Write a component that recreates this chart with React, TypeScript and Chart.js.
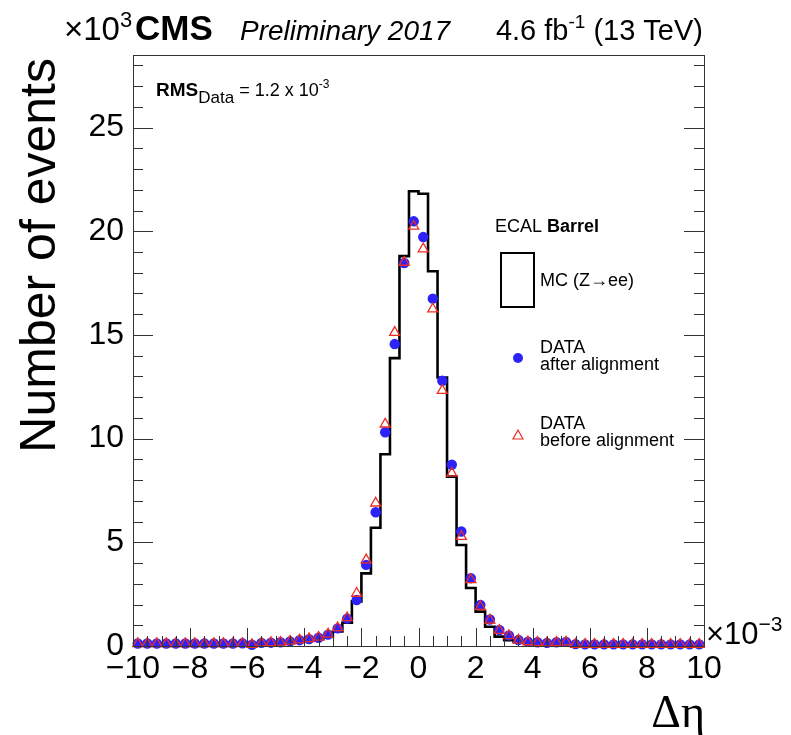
import React, { useEffect, useRef } from "react";
import { Chart, registerables } from "chart.js";

Chart.register(...registerables);

// Δη axis in units of 10^-3, 60 bins from -10 to 10
const X_MIN = -10;
const X_MAX = 10;
const N_BINS = 60;
const Y_MIN = 0;
const Y_MAX = 28.5;

const X_TICK_LABELS = [-10, -8, -6, -4, -2, 0, 2, 4, 6, 8, 10];
const Y_TICK_LABELS = [0, 5, 10, 15, 20, 25];

// Events per bin, in units of 10^3
const MC = [
  0.10, 0.10, 0.10, 0.10, 0.10, 0.10, 0.10, 0.10, 0.10, 0.10,
  0.10, 0.11, 0.12, 0.13, 0.14, 0.16, 0.19, 0.22, 0.27, 0.33,
  0.45, 0.70, 1.12, 2.15, 3.50, 5.70, 9.25, 13.88, 18.80, 21.93,
  21.81, 18.07, 12.95, 8.17, 4.87, 2.80, 1.66, 0.93, 0.45, 0.28,
  0.20, 0.16, 0.14, 0.13, 0.12, 0.11, 0.10, 0.10, 0.10, 0.10,
  0.10, 0.10, 0.10, 0.10, 0.10, 0.10, 0.10, 0.10, 0.10, 0.10,
];

const DATA_AFTER = [
  0.12, 0.12, 0.12, 0.12, 0.12, 0.12, 0.12, 0.12, 0.12, 0.12,
  0.12, 0.13, 0.06, 0.15, 0.16, 0.18, 0.22, 0.28, 0.33, 0.40,
  0.55, 0.85, 1.32, 2.22, 3.91, 6.45, 10.31, 14.56, 18.47, 20.48,
  19.72, 16.75, 12.79, 8.74, 5.52, 3.27, 1.98, 1.28, 0.77, 0.51,
  0.29, 0.21, 0.18, 0.15, 0.18, 0.20, 0.09, 0.08, 0.08, 0.08,
  0.08, 0.08, 0.08, 0.08, 0.08, 0.08, 0.08, 0.08, 0.08, 0.08,
];

const DATA_BEFORE = [
  0.11, 0.11, 0.11, 0.11, 0.11, 0.11, 0.11, 0.11, 0.11, 0.11,
  0.11, 0.12, 0.07, 0.15, 0.16, 0.18, 0.23, 0.29, 0.35, 0.42,
  0.57, 0.88, 1.36, 2.54, 4.15, 6.89, 10.70, 15.12, 18.50, 20.24,
  19.15, 16.25, 12.32, 8.33, 5.28, 3.20, 1.90, 1.25, 0.75, 0.50,
  0.28, 0.20, 0.17, 0.15, 0.17, 0.19, 0.08, 0.08, 0.08, 0.08,
  0.08, 0.08, 0.08, 0.08, 0.08, 0.08, 0.08, 0.08, 0.08, 0.08,
];

const SANS = "'Liberation Sans', Arial, Helvetica, sans-serif";
const SERIF = "'Liberation Serif', 'Times New Roman', serif";
const BLUE = "rgb(45,35,250)";
const RED = "rgb(238,45,35)";

type Part = { t: string; f: string; dy?: number };

function drawRich(ctx: CanvasRenderingContext2D, parts: Part[], x: number, y: number, align: "left" | "right" = "left") {
  ctx.save();
  ctx.textAlign = "left";
  ctx.textBaseline = "alphabetic";
  ctx.fillStyle = "#000";
  let total = 0;
  const widths = parts.map((p) => {
    ctx.font = p.f;
    const w = ctx.measureText(p.t).width;
    total += w;
    return w;
  });
  let cx = align === "right" ? x - total : x;
  parts.forEach((p, i) => {
    ctx.font = p.f;
    ctx.fillText(p.t, cx, y + (p.dy || 0));
    cx += widths[i];
  });
  ctx.restore();
}

const rootPlugin = {
  id: "rootDecor",
  afterDraw(chart: any) {
    const ctx: CanvasRenderingContext2D = chart.ctx;
    const { left, right, top, bottom } = chart.chartArea;
    const xs = chart.scales.x;
    const ys = chart.scales.y;

    ctx.save();
    // frame
    ctx.strokeStyle = "#333";
    ctx.lineWidth = 1;
    ctx.strokeRect(Math.round(left) + 0.5, Math.round(top) + 0.5, Math.round(right - left), Math.round(bottom - top));

    // x ticks (inward, bottom)
    ctx.beginPath();
    for (let k = 0; k <= 40; k++) {
      const v = X_MIN + k * 0.5;
      const px = Math.round(xs.getPixelForValue(v)) + 0.5;
      const len = k % 4 === 0 ? 18 : 10;
      ctx.moveTo(px, bottom);
      ctx.lineTo(px, bottom - len);
    }
    // y ticks (inward, left and right)
    for (let k = 0; k <= 28; k++) {
      const v = Y_MIN + k;
      const py = Math.round(ys.getPixelForValue(v)) + 0.5;
      const len = k % 5 === 0 ? 20 : 10;
      ctx.moveTo(left, py);
      ctx.lineTo(left + len, py);
      ctx.moveTo(right, py);
      ctx.lineTo(right - len, py);
    }
    ctx.stroke();
    ctx.restore();

    // header
    drawRich(ctx, [
      { t: "\u00d710", f: `33px ${SANS}` },
      { t: "3", f: `22px ${SANS}`, dy: -13 },
    ], 64, 40);
    drawRich(ctx, [{ t: "CMS", f: `bold 35px ${SANS}` }], 135, 40);
    drawRich(ctx, [{ t: "Preliminary 2017", f: `italic 28px ${SANS}` }], 240, 40);
    drawRich(ctx, [
      { t: "4.6 fb", f: `29px ${SANS}` },
      { t: "-1", f: `19px ${SANS}`, dy: -12 },
      { t: " (13 TeV)", f: `29px ${SANS}` },
    ], 703, 40, "right");

    // RMS
    drawRich(ctx, [
      { t: "RMS", f: `bold 19px ${SANS}` },
      { t: "Data", f: `17px ${SANS}`, dy: 7 },
      { t: " = 1.2 x 10", f: `18px ${SANS}` },
      { t: "-3", f: `12px ${SANS}`, dy: -8 },
    ], 156, 96);

    // legend
    drawRich(ctx, [
      { t: "ECAL ", f: `18px ${SANS}` },
      { t: "Barrel", f: `bold 18px ${SANS}` },
    ], 495, 232);
    ctx.save();
    ctx.strokeStyle = "#000";
    ctx.lineWidth = 2;
    ctx.strokeRect(501, 253, 33, 54);
    ctx.restore();
    drawRich(ctx, [{ t: "MC (Z\u2192ee)", f: `18px ${SANS}` }], 540, 286);

    ctx.save();
    ctx.fillStyle = BLUE;
    ctx.beginPath();
    ctx.arc(518, 358, 5, 0, Math.PI * 2);
    ctx.fill();
    ctx.restore();
    drawRich(ctx, [{ t: "DATA", f: `18px ${SANS}` }], 540, 353);
    drawRich(ctx, [{ t: "after alignment", f: `18px ${SANS}` }], 540, 370);

    ctx.save();
    ctx.strokeStyle = RED;
    ctx.lineWidth = 1.2;
    ctx.beginPath();
    ctx.moveTo(518, 430);
    ctx.lineTo(523, 439);
    ctx.lineTo(513, 439);
    ctx.closePath();
    ctx.stroke();
    ctx.restore();
    drawRich(ctx, [{ t: "DATA", f: `18px ${SANS}` }], 540, 429);
    drawRich(ctx, [{ t: "before alignment", f: `18px ${SANS}` }], 540, 446);

    // x exponent
    drawRich(ctx, [
      { t: "\u00d710", f: `31px ${SANS}` },
      { t: "\u22123", f: `21px ${SANS}`, dy: -13 },
    ], 706, 644);

    // x title
    drawRich(ctx, [{ t: "\u0394\u03b7", f: `46px ${SERIF}` }], 705, 727, "right");

    // y title
    ctx.save();
    ctx.translate(55, 58);
    ctx.rotate(-Math.PI / 2);
    ctx.font = `50px ${SANS}`;
    ctx.fillStyle = "#000";
    ctx.textAlign = "right";
    ctx.textBaseline = "alphabetic";
    ctx.fillText("Number of events", 0, 0);
    ctx.restore();
  },
};

export default function App() {
  const ref = useRef<HTMLCanvasElement | null>(null);

  useEffect(() => {
    document.body.style.margin = "0";
    const canvas = ref.current;
    if (!canvas) return;

    const width = (X_MAX - X_MIN) / N_BINS;
    const edges = Array.from({ length: N_BINS + 1 }, (_, i) => X_MIN + i * width);
    const centers = edges.slice(0, N_BINS).map((e) => e + width / 2);

    const mcPoints = MC.map((v, i) => ({ x: edges[i], y: v })).concat([{ x: X_MAX, y: MC[N_BINS - 1] }]);
    const afterPoints = DATA_AFTER.map((v, i) => ({ x: centers[i], y: v }));
    const beforePoints = DATA_BEFORE.map((v, i) => ({ x: centers[i], y: v }));

    const chart = new Chart(canvas, {
      type: "scatter",
      data: {
        datasets: [
          {
            label: "DATA before alignment",
            data: beforePoints,
            showLine: false,
            pointStyle: "triangle",
            pointRadius: 5.8,
            pointBorderColor: RED,
            pointBackgroundColor: "rgba(0,0,0,0)",
            pointBorderWidth: 1.3,
            clip: false,
            order: 0,
          },
          {
            label: "DATA after alignment",
            data: afterPoints,
            showLine: false,
            pointStyle: "circle",
            pointRadius: 5.2,
            pointBorderWidth: 0,
            pointBackgroundColor: BLUE,
            pointBorderColor: BLUE,
            clip: false,
            order: 1,
          },
          {
            label: "MC (Z\u2192ee)",
            data: mcPoints,
            showLine: true,
            stepped: "before",
            borderColor: "#000",
            borderWidth: 2.6,
            pointRadius: 0,
            fill: false,
            clip: false,
            order: 2,
          } as any,
        ],
      },
      options: {
        responsive: false,
        animation: false,
        events: [],
        layout: { padding: { left: 0, right: 87, top: 55, bottom: 0 } },
        plugins: { legend: { display: false }, tooltip: { enabled: false }, title: { display: false } },
        scales: {
          x: {
            type: "linear",
            min: X_MIN,
            max: X_MAX,
            grid: { display: false, drawTicks: false },
            border: { display: false },
            afterBuildTicks: (scale: any) => {
              scale.ticks = X_TICK_LABELS.map((v) => ({ value: v }));
            },
            afterFit: (scale: any) => {
              scale.height = 89;
            },
            ticks: {
              autoSkip: false,
              maxRotation: 0,
              padding: 4,
              color: "#000",
              font: { family: SANS, size: 32 },
              callback: (v: any) => (Number(v) < 0 ? "\u2212" + Math.abs(Number(v)) : String(v)),
            },
          },
          y: {
            type: "linear",
            min: Y_MIN,
            max: Y_MAX,
            grid: { display: false, drawTicks: false },
            border: { display: false },
            afterBuildTicks: (scale: any) => {
              scale.ticks = Y_TICK_LABELS.map((v) => ({ value: v }));
            },
            afterFit: (scale: any) => {
              scale.width = 133;
            },
            ticks: {
              padding: 9,
              color: "#000",
              font: { family: SANS, size: 32 },
              callback: (v: any) => String(v),
            },
          },
        },
      },
      plugins: [rootPlugin],
    });

    return () => chart.destroy();
  }, []);

  return (
    <div style={{ position: "absolute", left: 0, top: 0, width: 791, height: 735, background: "#fff" }}>
      <canvas ref={ref} width={791} height={735} style={{ display: "block" }} />
    </div>
  );
}
